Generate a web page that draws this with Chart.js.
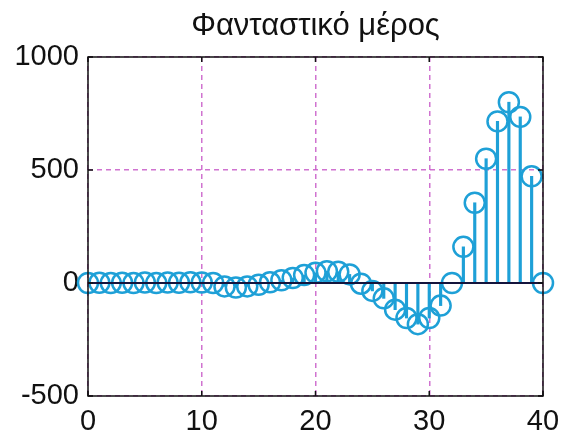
<!DOCTYPE html>
<html>
<head>
<meta charset="utf-8">
<script src="https://cdn.jsdelivr.net/npm/chart.js@4.4.0/dist/chart.umd.min.js"></script>
<style>
  html, body { margin: 0; padding: 0; background: #fff; }
  #wrap { width: 563px; height: 440px; }
</style>
</head>
<body>
<div id="wrap"><canvas id="stemChart"></canvas></div>
<script>
// Dati (parte immaginaria)
const xValues = [0, 1, 2, 3, 4, 5, 6, 7, 8, 9, 10, 11, 12, 13, 14, 15, 16, 17, 18, 19, 20,
  21, 22, 23, 24, 25, 26, 27, 28, 29, 30, 31, 32, 33, 34, 35, 36, 37, 38, 39, 40];
const imagValues = [0, 1, 0, 1, 0, 2, 0, 2, 1, 3, 2, 0, -15, -20, -15, -8, 3, 12, 22, 35, 45,
  52, 50, 38, -3, -35, -68, -118, -155, -182, -155, -100, 0, 160, 355, 550, 715, 800, 735, 472, 0];
const xTicks = [0, 10, 20, 30, 40];
const yTicks = [-500, 0, 500, 1000];
const titleText = "Φανταστικό μέρος";

const stemColor = "#1ea0d7";
const gridColor = "rgba(200, 90, 200, 0.85)";
const fontFamily = "'Liberation Sans', Arial, sans-serif";

const points = xValues.map((x, i) => ({ x: x, y: imagValues[i] }));

// cornice nera + tacche interne stile MATLAB + titolo centrato sull'area del grafico
const frameBox = {
  id: "frameBox",
  afterDraw(chart) {
    const { ctx, chartArea: a, scales } = chart;
    ctx.save();
    ctx.strokeStyle = "#111";
    ctx.lineWidth = 1.5;
    ctx.strokeRect(a.left, a.top, a.right - a.left, a.bottom - a.top);
    ctx.beginPath();
    xTicks.forEach((v) => {
      const px = scales.x.getPixelForValue(v);
      ctx.moveTo(px, a.bottom); ctx.lineTo(px, a.bottom - 5);
      ctx.moveTo(px, a.top); ctx.lineTo(px, a.top + 5);
    });
    yTicks.forEach((v) => {
      const py = scales.y.getPixelForValue(v);
      ctx.moveTo(a.left, py); ctx.lineTo(a.left + 5, py);
      ctx.moveTo(a.right, py); ctx.lineTo(a.right - 5, py);
    });
    ctx.stroke();

    ctx.fillStyle = "#111";
    ctx.font = "31px " + fontFamily;
    ctx.textAlign = "center";
    ctx.textBaseline = "middle";
    ctx.fillText(titleText, (a.left + a.right) / 2, 26);
    ctx.restore();
  },
};

new Chart(document.getElementById("stemChart"), {
  data: {
    datasets: [
      {
        type: "line",
        data: [{ x: 0, y: 0 }, { x: 40, y: 0 }],
        borderColor: "#14143c",
        borderWidth: 2,
        pointRadius: 0,
        order: 0,
      },
      {
        type: "scatter",
        data: points,
        pointStyle: "circle",
        pointRadius: 10,
        pointHoverRadius: 10,
        pointBorderWidth: 2.5,
        borderColor: stemColor,
        backgroundColor: "rgba(0,0,0,0)",
        clip: false,
        order: 1,
      },
      {
        type: "bar",
        data: points,
        backgroundColor: stemColor,
        barThickness: 2.5,
        grouped: false,
        order: 2,
      },
    ],
  },
  options: {
    responsive: true,
    maintainAspectRatio: false,
    animation: false,
    layout: { padding: { left: 0, right: 20, top: 57, bottom: 0 } },
    plugins: {
      legend: { display: false },
      tooltip: { enabled: false },
    },
    scales: {
      x: {
        type: "linear",
        min: 0,
        max: 40,
        offset: false,
        afterBuildTicks: (scale) => { scale.ticks = xTicks.map((v) => ({ value: v })); },
        afterFit: (scale) => {
          scale.height = 44;
          scale.paddingLeft = 0;
          scale.paddingRight = 0;
        },
        grid: { color: gridColor, lineWidth: 1.5, drawTicks: false, offset: false },
        border: { display: false, dash: [5, 4] },
        ticks: {
          color: "#111",
          padding: 9,
          maxRotation: 0,
          callback: (v) => String(v),
          font: { family: fontFamily, size: 29 },
        },
      },
      y: {
        type: "linear",
        min: -500,
        max: 1000,
        afterBuildTicks: (scale) => { scale.ticks = yTicks.map((v) => ({ value: v })); },
        afterFit: (scale) => {
          scale.width = 88;
          scale.paddingTop = 0;
          scale.paddingBottom = 0;
        },
        grid: { color: gridColor, lineWidth: 1.5, drawTicks: false },
        border: { display: false, dash: [5, 4] },
        ticks: {
          color: "#111",
          padding: 9,
          callback: (v) => String(v),
          font: { family: fontFamily, size: 29 },
        },
      },
    },
  },
  plugins: [frameBox],
});
</script>
</body>
</html>
